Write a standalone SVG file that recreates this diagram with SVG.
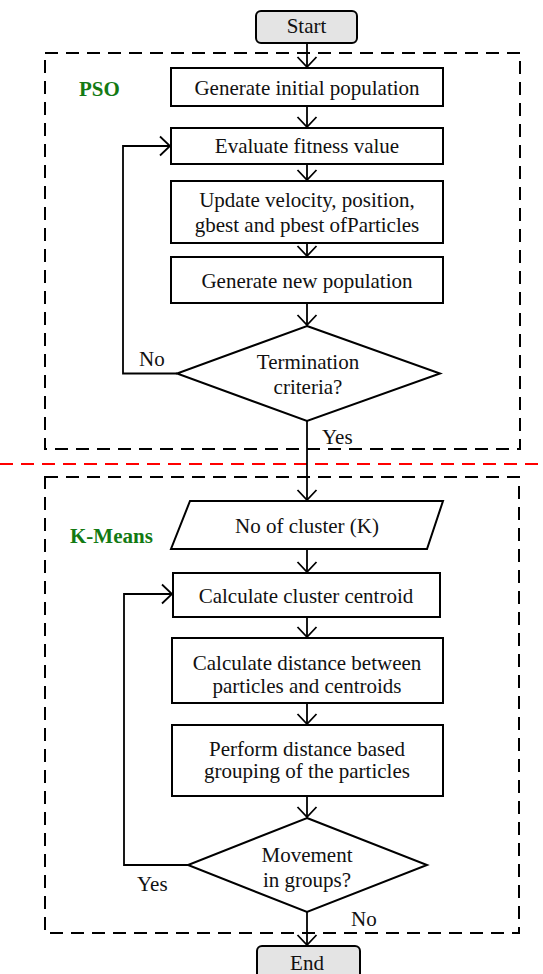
<svg xmlns="http://www.w3.org/2000/svg" width="543" height="974" viewBox="0 0 543 974">
<defs>
<marker id="ah" viewBox="0 0 12 22" refX="11" refY="11" markerWidth="12" markerHeight="22" markerUnits="userSpaceOnUse" orient="auto">
<path d="M1,1.5 L11,11 L1,20.5" fill="none" stroke="#000" stroke-width="1.8"/>
</marker>
<style>
text{font-family:"Liberation Serif","Times New Roman",serif;font-size:21px;fill:#111;text-anchor:middle}
.lbl{text-anchor:start}
.grp{font-weight:bold;fill:#137a13;text-anchor:start}
.box{fill:#fff;stroke:#000;stroke-width:2}
.term{fill:#e4e4e4;stroke:#000;stroke-width:2}
.dash{fill:none;stroke:#000;stroke-width:2;stroke-dasharray:13 8}
.red{fill:none;stroke:#f00;stroke-width:2;stroke-dasharray:13 8}
.con path{fill:none;stroke:#000;stroke-width:1.8;marker-end:url(#ah)}
</style>
</defs>
<rect width="543" height="974" fill="#fff"/>
<g id="pso-group">
<rect class="dash" x="45" y="53" width="475" height="396"/>
<text class="grp" x="79" y="96">PSO</text>
</g>
<line class="red" x1="0" y1="464" x2="543" y2="464"/>
<g id="kmeans-group">
<rect class="dash" x="45" y="477" width="474" height="456"/>
<text class="grp" x="70" y="543">K-Means</text>
</g>
<g id="start"><rect class="term" x="256" y="11" width="101" height="32" rx="5"/><text x="306.5" y="33">Start</text></g>
<g id="gen-init"><rect class="box" x="171" y="68" width="272" height="38"/><text x="307" y="95">Generate initial population</text></g>
<g id="eval"><rect class="box" x="171" y="128" width="272" height="36"/><text x="307" y="153">Evaluate fitness value</text></g>
<g id="update"><rect class="box" x="171" y="181" width="272" height="62"/><text x="307" y="207">Update velocity, position,</text><text x="307" y="232">gbest and pbest ofParticles</text></g>
<g id="gen-new"><rect class="box" x="171" y="257" width="272" height="46"/><text x="307" y="288">Generate new population</text></g>
<g id="term"><polygon class="box" points="307,326 440,373.5 307,421 177,373.5"/><text x="308" y="369">Termination</text><text x="308" y="394">criteria?</text></g>
<g id="k-input"><polygon class="box" points="190,501 443,501 427,549 171,549"/><text x="307" y="533">No of cluster (K)</text></g>
<g id="centroid"><rect class="box" x="173" y="573" width="267" height="44"/><text x="306" y="603">Calculate cluster centroid</text></g>
<g id="distance"><rect class="box" x="172" y="638" width="271" height="65"/><text x="307" y="670">Calculate distance between</text><text x="307" y="693">particles and centroids</text></g>
<g id="grouping"><rect class="box" x="172" y="725" width="271" height="71"/><text x="307" y="756">Perform distance based</text><text x="307" y="778">grouping of the particles</text></g>
<g id="movement"><polygon class="box" points="307,818 427,865 307,912 188,865"/><text x="307" y="862">Movement</text><text x="307" y="887">in groups?</text></g>
<g id="end"><rect class="term" x="257" y="946" width="103" height="34" rx="5"/><text x="307" y="970">End</text></g>
<g id="connectors" class="con">
<path d="M307,43 V67"/>
<path d="M307,106 V127"/>
<path d="M307,164 V180"/>
<path d="M307,243 V256"/>
<path d="M307,303 V325"/>
<path d="M307,421 V500"/>
<path d="M307,549 V572"/>
<path d="M307,617 V637"/>
<path d="M307,703 V724"/>
<path d="M307,796 V817"/>
<path d="M307,912 V945"/>
<path d="M177,373.5 H123 V146 H170"/>
<path d="M188,865 H124 V594 H172"/>
</g>
<g id="labels">
<text class="lbl" x="139" y="366">No</text>
<text class="lbl" x="322" y="444">Yes</text>
<text class="lbl" x="137" y="891">Yes</text>
<text class="lbl" x="351" y="926">No</text>
</g>
</svg>
